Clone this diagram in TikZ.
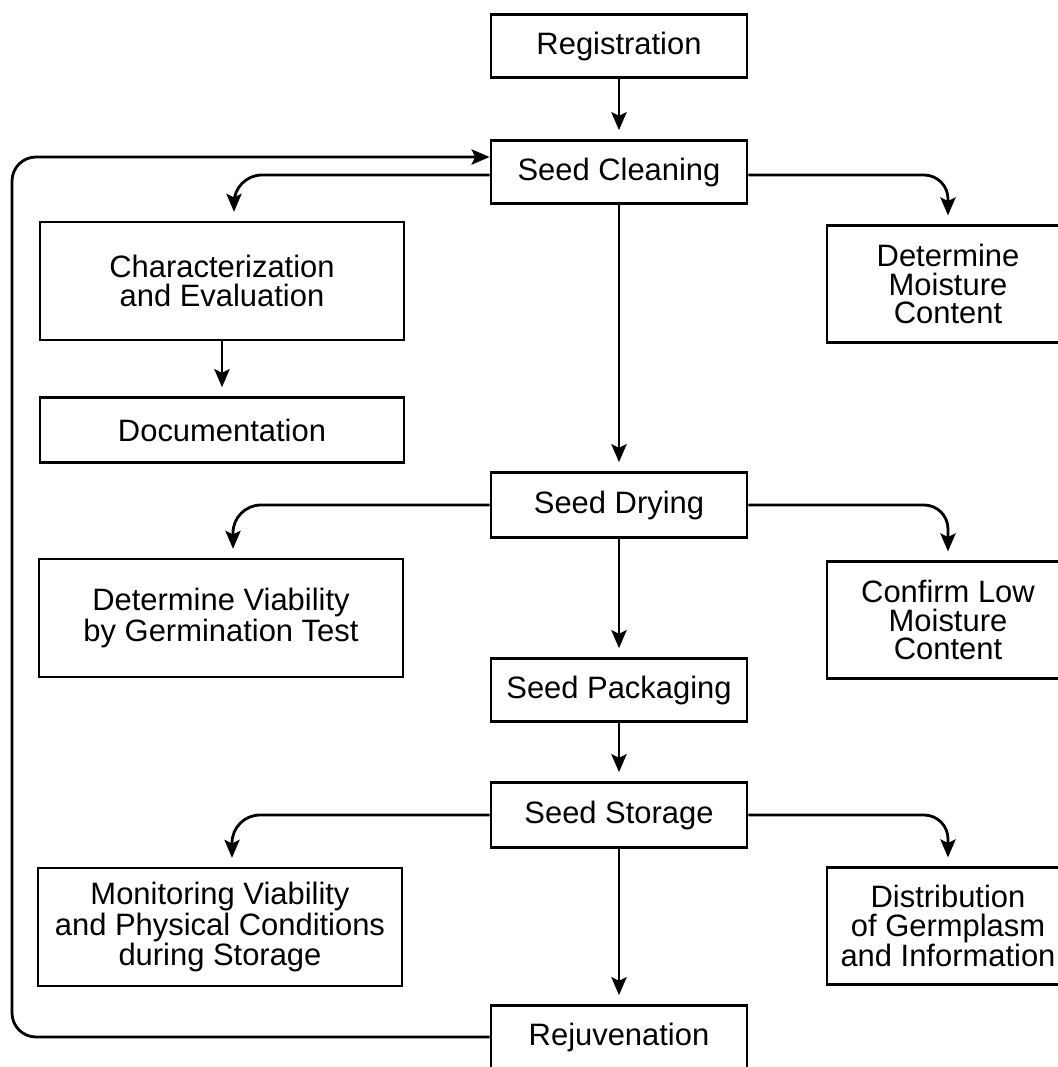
\documentclass[tikz,border=0pt]{standalone}
\usepackage{fontspec}
\setmainfont{Liberation Sans}
\usepackage{tikz}
\usetikzlibrary{arrows.meta}

\begin{document}
\begin{tikzpicture}[x=0.25mm,y=-0.25mm]
				\useasboundingbox (0,0) rectangle (1058,1067);
				\clip (0,0) rectangle (1058,1067);
				\begin{scope}[every node/.style = {rectangle, draw, line width=2pt, align=center,
						inner sep=0pt, minimum width=64mm, minimum height=15.8mm,
						font=\fontsize{22}{20.2}\selectfont},
					wide/.style = {minimum width=91mm},
					tall/.style = {minimum height=29.5mm},
					side/.style = {minimum width=60.5mm, minimum height=29.2mm}]
					\node (Reg) at (619,46) {Registration};
					\node (Clean) at (619,172) {Seed Cleaning};
					\node[wide, tall] (Char) at (222,281) {Characterization\\and Evaluation};
					\node[wide, minimum height=16.3mm] (Doc) at (222,430) {Documentation};
					\node[side] (Moist) at (948,284) {Determine\\Moisture\\Content};
					\node[minimum height=16.3mm] (Dry) at (619,505) {Seed Drying};
					\node[wide, tall] (Viab) at (221,618) {Determine Viability\\by Germination Test};
					\node[side] (LowM) at (948,620) {Confirm Low\\Moisture\\Content};
					\node (Pack) at (619,690) {Seed Packaging};
					\node[minimum height=16.3mm] (Store) at (619,815) {Seed Storage};
					\node[wide, tall] (Monit) at (220,927) {Monitoring Viability\\and Physical Conditions\\during Storage};
					\node[side] (Distr) at (948,926) {Distribution\\of Germplasm\\and Information};
					\node (Rejuv) at (619,1037) {Rejuvenation};
				\end{scope}
					\coordinate (Loop) at (12,0);
				\begin{scope}[line width=2pt, >={Stealth[length=4.5mm, width=3.8mm, inset=0.9mm]},
						every edge/.style={draw=black, line width=2pt, shorten >=2.2mm}]
					\path [->] (Reg) edge (Clean);
					\path [->] (Clean) edge (Dry);
					\path [->] (Dry) edge (Pack);
					\path [->] (Pack) edge (Store);
					\path [->] (Store) edge (Rejuv);
					\path [->] (Char) edge (Doc);
					% side branches
					\draw [->, shorten >=2.2mm, rounded corners=7mm] ([yshift=-0.75mm]Clean.west) -| ([xshift=3mm]Char.north);
					\draw [->, shorten >=2.2mm, rounded corners=6mm] ([yshift=-0.75mm]Clean.east) -| (Moist.north);
					\draw [->, shorten >=2.2mm, rounded corners=7mm] (Dry.west) -| ([xshift=3mm]Viab.north);
					\draw [->, shorten >=2.2mm, rounded corners=6mm] (Dry.east) -| (LowM.north);
					\draw [->, shorten >=2.2mm, rounded corners=7mm] (Store.west) -| ([xshift=3mm]Monit.north);
					\draw [->, shorten >=2.2mm, rounded corners=6mm] (Store.east) -| (Distr.north);
					% back to cleaning
					\draw [->, rounded corners=6mm] (Rejuv.west) -- (Rejuv.west -| Loop) |- ([yshift=3.75mm]Clean.west);
				\end{scope}
			\end{tikzpicture}
\end{document}
